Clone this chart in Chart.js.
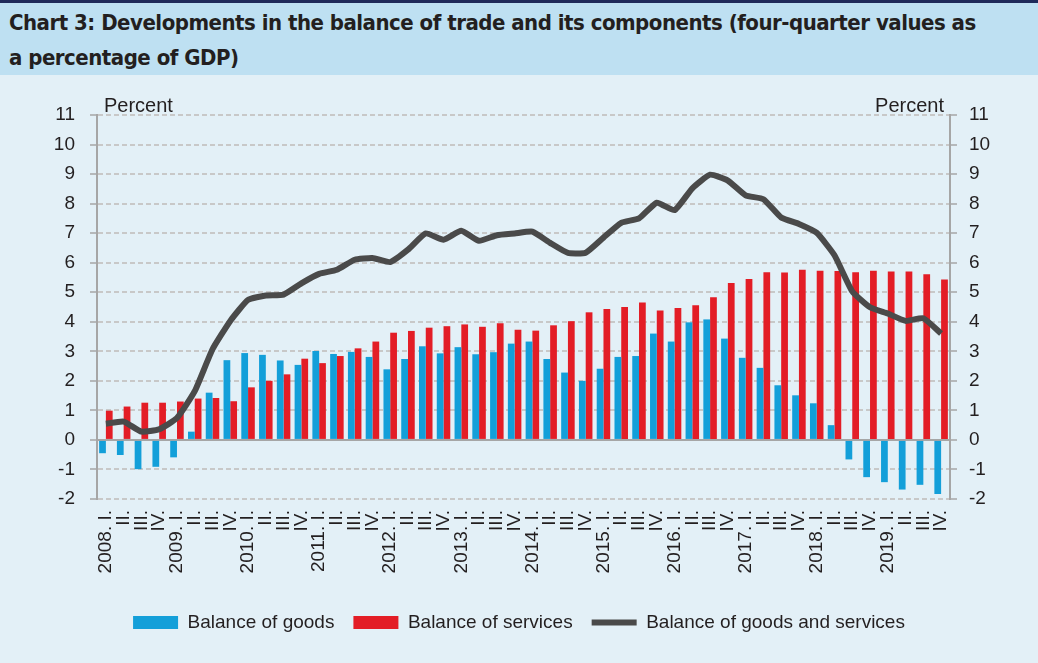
<!DOCTYPE html>
<html lang="en">
<head>
<meta charset="UTF-8">
<title>Chart 3</title>
<script src="https://cdn.jsdelivr.net/npm/chart.js"></script>
<style>
    body {margin: 0; background: #e3f0f7; width: 1038px; height: 663px; overflow: hidden;}
    .head {border-top: 3px solid #1f2a5a; background: #bee0f2; height: 75px; box-sizing: border-box;
           padding: 2px 0 0 9px; font-family: "Liberation Sans Narrow", "DejaVu Sans Condensed", sans-serif;
           font-weight: bold; font-size: 22px; letter-spacing: -0.5px; line-height: 35px; color: #231f20;}
    .box {position: absolute; left: 0; top: 78px; width: 1038px; height: 585px;}
</style>
<script>
    // quarters 2008 I. .. 2019 IV.
    const years = [2008, 2009, 2010, 2011, 2012, 2013, 2014, 2015, 2016, 2017, 2018, 2019];
    const quarters = ["I.", "II.", "III.", "IV."];
    const labels = [];
    years.forEach(y => quarters.forEach((q, i) => labels.push(i == 0 ? y + ". " + q : q)));

    const goods = [-0.45, -0.51, -0.99, -0.91, -0.59, 0.28, 1.60, 2.70,
                   2.94, 2.88, 2.69, 2.54, 3.01, 2.91, 2.98, 2.81,
                   2.39, 2.74, 3.17, 2.93, 3.14, 2.90, 2.97, 3.26,
                   3.33, 2.74, 2.28, 2.00, 2.41, 2.81, 2.84, 3.60,
                   3.33, 3.98, 4.08, 3.43, 2.78, 2.44, 1.85, 1.51,
                   1.24, 0.50, -0.66, -1.26, -1.43, -1.68, -1.52, -1.83];
    const services = [0.99, 1.13, 1.26, 1.26, 1.30, 1.40, 1.42, 1.31,
                      1.78, 2.00, 2.22, 2.75, 2.60, 2.84, 3.10, 3.33,
                      3.63, 3.69, 3.80, 3.85, 3.91, 3.83, 3.95, 3.73,
                      3.70, 3.88, 4.02, 4.32, 4.43, 4.50, 4.65, 4.38,
                      4.47, 4.56, 4.83, 5.31, 5.45, 5.68, 5.67, 5.76,
                      5.73, 5.72, 5.68, 5.73, 5.70, 5.70, 5.61, 5.43];
    const total = [0.55, 0.62, 0.28, 0.36, 0.74, 1.65, 3.07, 4.03,
                   4.74, 4.89, 4.92, 5.30, 5.62, 5.76, 6.10, 6.16,
                   6.02, 6.44, 6.99, 6.78, 7.08, 6.74, 6.93, 6.99,
                   7.05, 6.67, 6.33, 6.34, 6.85, 7.35, 7.50, 8.03,
                   7.78, 8.52, 8.98, 8.78, 8.28, 8.15, 7.53, 7.31,
                   7.01, 6.25, 5.03, 4.49, 4.28, 4.03, 4.12, 3.60];
    const yTicks = {min: -2, max: 11, step: 1};
    const unitLabel = "Percent";
</script>
</head>
<body>
<div class="head">Chart 3: Developments in the balance of trade and its components (four-quarter values as<br>a percentage of GDP)</div>
<div class="box"><canvas id="myChart"></canvas></div>
<script>
    const font = "'Liberation Sans', Arial, sans-serif";
    const txt = "#231f20";

    // "Percent" above both axes
    const unitPlugin = {
        id: "unitText",
        afterDraw(chart) {
            const ctx = chart.ctx, a = chart.chartArea;
            ctx.save();
            ctx.font = "20px " + font;
            ctx.fillStyle = txt;
            ctx.textBaseline = "alphabetic";
            ctx.textAlign = "left";
            ctx.fillText(unitLabel, a.left + 7, a.top - 3);
            ctx.textAlign = "right";
            ctx.fillText(unitLabel, a.right - 6, a.top - 3);
            ctx.restore();
        }
    };

    const yAxis = (pos) => ({
        position: pos,
        min: yTicks.min, max: yTicks.max,
        afterFit: s => { s.width = pos == "left" ? 97 : 88; },
        ticks: {stepSize: yTicks.step, color: txt, font: {size: 19, family: font}, padding: pos == "left" ? 15 : 12},
        grid: {
            drawOnChartArea: pos == "left",
            color: c => c.tick && c.tick.value == 0 ? "#a6a6a6" : "#c8c8c8",
            lineWidth: 2,
            tickColor: "#a6a6a6", tickLength: 7, tickWidth: 1.5
        },
        border: {color: "#a6a6a6", width: 2, dash: c => c.tick && c.tick.value == 0 ? [] : [5, 3]}
    });

    new Chart(document.getElementById("myChart"), {
        type: "bar",
        data: {
            labels: labels,
            datasets: [
                {label: "Balance of goods", data: goods, backgroundColor: "#139fd9",
                 barPercentage: 1, categoryPercentage: 0.76, order: 1, borderWidth: 0},
                {label: "Balance of services", data: services, backgroundColor: "#e31d26",
                 barPercentage: 1, categoryPercentage: 0.76, order: 1, borderWidth: 0},
                {type: "line", label: "Balance of goods and services", data: total,
                 borderColor: "#4a4a4a", backgroundColor: "#4a4a4a", borderWidth: 6,
                 pointRadius: 0, tension: 0.15, order: 0, pointStyle: "line"}
            ]
        },
        options: {
            responsive: true,
            maintainAspectRatio: false,
            animation: false,
            layout: {padding: {top: 37, bottom: 21}},
            scales: {
                x: {
                    afterFit: s => { s.height = 95; },
                    grid: {display: false},
                    border: {display: false},
                    ticks: {autoSkip: false, maxRotation: 90, minRotation: 90, color: txt,
                            font: {size: 19, family: font}, padding: 3}
                },
                y: yAxis("left"),
                y2: yAxis("right")
            },
            plugins: {
                tooltip: {enabled: false},
                legend: {
                    position: "bottom",
                    labels: {
                        sort: (a, b) => a.datasetIndex - b.datasetIndex,
                        usePointStyle: true, pointStyleWidth: 45, boxHeight: 13,
                        color: txt, font: {size: 19, family: font}, padding: 19,
                        generateLabels: chart => chart.data.datasets.map((d, i) => ({
                            text: d.label, datasetIndex: i,
                            fillStyle: d.backgroundColor, strokeStyle: d.borderColor || d.backgroundColor,
                            lineWidth: d.type == "line" ? 6 : 0,
                            pointStyle: d.type == "line" ? "line" : "rect", fontColor: txt
                        }))
                    }
                }
            }
        },
        plugins: [unitPlugin]
    });
</script>
</body>
</html>
